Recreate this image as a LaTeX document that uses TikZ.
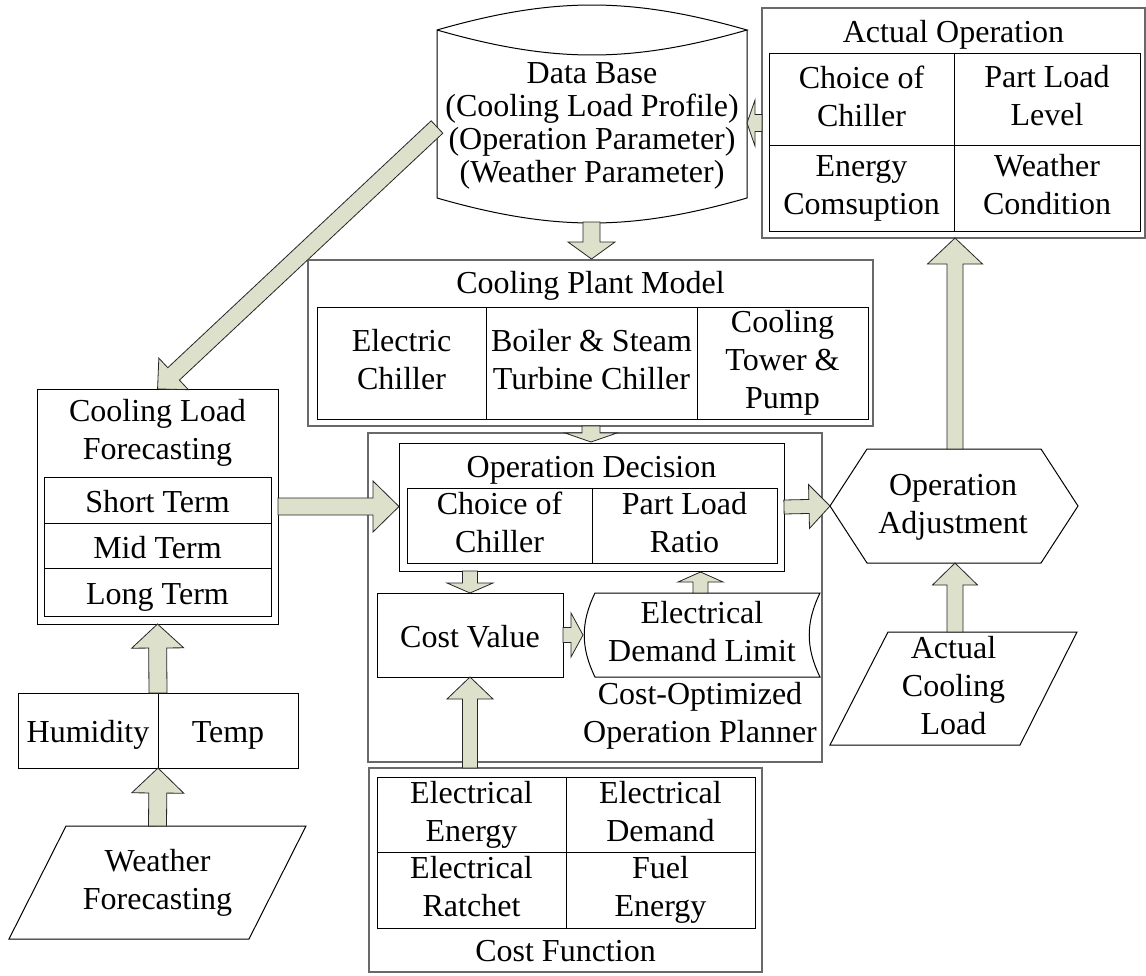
\documentclass[tikz,border=0pt]{standalone}
\usepackage{fontspec}
\setmainfont{Liberation Serif}
\usetikzlibrary{calc}
\definecolor{arrowc}{RGB}{221,224,203}
\definecolor{oline}{RGB}{105,105,105}
\newcommand\rbox[6]{\node[#6, minimum width={#4-#2}, minimum height={#5-#3}] (#1) at ({(#2+#4)/2},{(#3+#5)/2}) {};}
\newcommand\cbox[7]{\node[#6, minimum width={#4-#2}, minimum height={#5-#3}] (#1) at ({(#2+#4)/2},{(#3+#5)/2}) {#7};}
\newcommand\topstrut{\rule{0pt}{31.6pt}}
\newcommand\botstrut{\rule[-6.4pt]{0pt}{6.4pt}}
\newcommand\barr[5]{%
  \path let \p1=(#1), \p2=(#2) in \pgfextra{%
    \pgfmathsetmacro\bAng{atan2((\y2)-(\y1),(\x2)-(\x1))}%
    \pgfmathsetmacro\bLen{veclen((\x2)-(\x1),(\y2)-(\y1))}%
    \xdef\bAngG{\bAng}\xdef\bLenG{\bLen}\xdef\bXG{\x1}\xdef\bYG{\y1}};
  \begin{scope}[shift={(\bXG,\bYG)}, rotate=\bAngG]
    \filldraw[barrow] (0,#3) -- ({\bLenG-#5},#3) -- ({\bLenG-#5},#4) -- (\bLenG,0)
      -- ({\bLenG-#5},-#4) -- ({\bLenG-#5},-#3) -- (0,-#3) -- cycle;
  \end{scope}}
\begin{document}
\begin{tikzpicture}[x=1pt,y=-1pt,
  txt/.style={font=\fontsize{32}{38}\selectfont, align=center, inner sep=0pt,
    execute at begin node=\topstrut, execute at end node=\botstrut},
  dbtxt/.style={font=\fontsize{32}{33}\selectfont, align=center, inner sep=0pt,
    execute at begin node=\strut, execute at end node=\strut},
  bx/.style={draw=black, line width=1pt, inner sep=0pt, outer sep=0pt},
  obx/.style={draw=oline, line width=1.5pt, inner sep=0pt, outer sep=0pt},
  ghost/.style={draw=none, inner sep=0pt, outer sep=0pt},
  cell/.style={bx, txt},
  barrow/.style={fill=arrowc, draw=black!85, line width=0.8pt, line join=miter}]
\useasboundingbox[fill=white] (0,0) rectangle (1146,975);

% ---------- Data Base ----------
\rbox{dbs}{437}{5}{747}{222}{ghost}
\draw[bx] (437,30) to[bend left=16] (747,30) to[bend left=16] (437,30) -- (437,198)
  to[bend right=16] (747,198) -- (747,30);
\node[dbtxt] (dbt) at (592,127) {Data Base\\(Cooling Load Profile)\\(Operation Parameter)\\(Weather Parameter)};

% ---------- Actual Operation ----------
\rbox{ao}{762}{8}{1145}{238}{obx}
\node[txt] (aot) at (953.5,30) {Actual Operation};
\cbox{ao1}{769}{53}{954}{145}{cell}{Choice of\\Chiller}
\cbox{ao2}{954}{53}{1140}{145}{cell}{Part Load\\Level}
\cbox{ao3}{769}{145}{954}{231}{cell}{Energy\\Comsuption}
\cbox{ao4}{954}{145}{1140}{231}{cell}{Weather\\Condition}

% ---------- Cooling Plant Model ----------
\rbox{cpm}{308}{260}{873}{426}{obx}
\node[txt] (cpmt) at (590.5,281) {Cooling Plant Model};
\cbox{cp1}{317}{307}{486}{419}{cell}{Electric\\Chiller}
\cbox{cp2}{486}{307}{697}{419}{cell}{Boiler \& Steam\\Turbine Chiller}
\cbox{cp3}{697}{307}{868}{419}{cell}{Cooling\\Tower \&\\Pump}

% ---------- Cost-Optimized Operation Planner ----------
\rbox{plan}{368}{433}{822}{762}{obx}
\rbox{od}{399}{443}{784}{571}{bx}
\node[txt] (odt) at (591.5,465) {Operation Decision};
\cbox{od1}{407}{488}{592}{563}{cell}{Choice of\\Chiller}
\cbox{od2}{592}{488}{777}{563}{cell}{Part Load\\Ratio}
\cbox{cv}{377}{593}{563}{677}{cell}{Cost Value}
\rbox{edl}{583}{593}{820}{677}{ghost}
\draw[bx] (595,593) -- (820,593) to[bend right=26] (820,677) -- (595,677)
  to[bend left=26] (595,593) -- cycle;
\node[txt] (edlt) at (702,635) {Electrical\\Demand Limit};
\node[txt] (plant) at (700,716) {Cost-Optimized\\Operation Planner};

% ---------- Operation Adjustment ----------
\rbox{hex}{830}{449}{1078}{563}{ghost}
\draw[bx] (830,506) -- (867,449) -- (1041,449) -- (1078,506) -- (1041,563) -- (867,563) -- cycle;
\node[txt] (hext) at (953,507) {Operation\\Adjustment};

% ---------- Actual Cooling Load ----------
\rbox{acl}{830}{632}{1077}{745}{ghost}
\draw[bx] (888,632) -- (1077,632) -- (1020,745) -- (830,745) -- cycle;
\node[txt] (aclt) at (953.5,689) {Actual\\Cooling\\Load};

% ---------- Cost Function ----------
\rbox{cf}{369}{768}{762}{972}{obx}
\cbox{cf1}{377}{777}{566}{852}{cell}{Electrical\\Energy}
\cbox{cf2}{566}{777}{755}{852}{cell}{Electrical\\Demand}
\cbox{cf3}{377}{852}{566}{928}{cell}{Electrical\\Ratchet}
\cbox{cf4}{566}{852}{755}{928}{cell}{Fuel\\Energy}
\node[txt] (cft) at (565.5,949) {Cost Function};

% ---------- Cooling Load Forecasting ----------
\rbox{clf}{37}{389}{278}{624}{bx}
\node[txt] (clft) at (157.5,432.5) {Cooling Load\\Forecasting};
\cbox{cl1}{44}{477}{271}{523}{cell}{Short Term}
\cbox{cl2}{44}{523}{271}{568}{cell}{Mid Term}
\cbox{cl3}{44}{568}{271}{616}{cell}{Long Term}

% ---------- Humidity / Temp ----------
\cbox{hum}{18}{693}{158}{768}{cell}{Humidity}
\cbox{tmp}{158}{693}{298}{768}{cell}{Temp}
\coordinate (ht) at (158,693);
\coordinate (hb) at (158,768);

% ---------- Weather Forecasting ----------
\rbox{wf}{8}{826}{306}{939}{ghost}
\draw[bx] (66,826) -- (306,826) -- (249,939) -- (9,939) -- cycle;
\node[txt] (wft) at (157.5,882.5) {Weather\\Forecasting};

% ---------- block arrows ----------
\barr{$(dbs.south)+(-0.5,0)$}{$(dbs.south |- cpm.north)+(-0.5,-1)$}{8.5}{23.5}{17}
\barr{$(cpm.south)+(0.5,0)$}{$(cpm.south |- od.north)+(0.5,-1)$}{9}{26}{9}
\barr{ao.west}{ao.west -| dbs.east}{8.5}{23}{8}
\barr{$(dbs.west)+(0,13.5)$}{clf.north}{8.5}{21.6}{22}
\barr{clf.east}{clf.east -| od.west}{8.5}{25.5}{26}
\barr{od.east}{hex.west}{7}{22}{21}
\barr{od.south -| cv.north}{cv.north}{7.5}{23}{10}
\barr{$(edl.north)+(-1,0)$}{$(edl.north |- od.south)+(-1,1)$}{7.5}{22.5}{10}
\barr{cv.east}{edl.west}{7.5}{22}{12}
\barr{cv.south |- cf.north}{cv.south}{7.5}{23}{22}
\barr{ht}{clf.south}{9}{26}{24}
\barr{$(wf.north)+(0.5,0)$}{hb}{9}{26}{25}
\barr{$(acl.north)+(1.5,0)$}{$(hex.south)+(1,0)$}{8}{22.5}{22}
\barr{$(hex.north)+(1,0)$}{$(hex.north |- ao.south)+(1,0)$}{8}{27.5}{26}
\end{tikzpicture}
\end{document}
